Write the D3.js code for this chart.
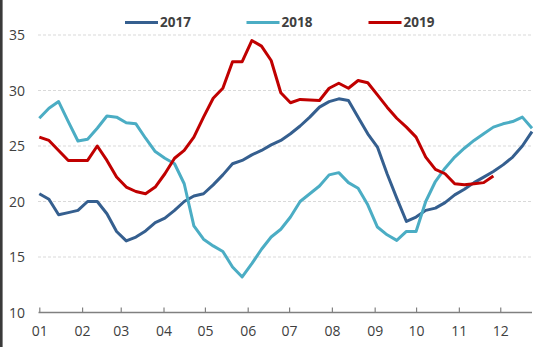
<!DOCTYPE html>
<html>
<head>
<meta charset="utf-8">
<script src="https://cdn.jsdelivr.net/npm/d3@7"></script>
<style>
  html, body { margin: 0; padding: 0; background: #fff; }
  svg { display: block; font-family: "Open Sans", "DejaVu Sans", sans-serif; }
</style>
</head>
<body>
<svg id="chart" width="550" height="347"></svg>
<script>
// ---- data (weekly points, week index 0 = Jan 1) ----
const seriesNames = ["2017", "2018", "2019"];
const seriesColors = ["#355F8F", "#4BADC4", "#C00000"];
const values2017 = [20.7, 20.2, 18.8, 19.0, 19.2, 20.0, 20.0, 18.9, 17.3, 16.45,
  16.8, 17.35, 18.1, 18.5, 19.2, 20.0, 20.5, 20.7, 21.5, 22.4,
  23.4, 23.7, 24.2, 24.6, 25.1, 25.5, 26.1, 26.8, 27.6, 28.5,
  29.0, 29.25, 29.1, 27.6, 26.1, 24.9, 22.5, 20.3, 18.2, 18.6,
  19.2, 19.4, 19.9, 20.6, 21.1, 21.7, 22.2, 22.7, 23.3, 24.0,
  25.0, 26.3];
const values2018 = [27.5, 28.4, 29.0, 27.2, 25.45, 25.6, 26.6, 27.7, 27.6, 27.1,
  27.0, 25.7, 24.5, 23.9, 23.4, 21.6, 17.8, 16.6, 16.0, 15.5,
  14.1, 13.2, 14.4, 15.7, 16.8, 17.5, 18.6, 20.0, 20.7, 21.4,
  22.4, 22.6, 21.7, 21.2, 19.7, 17.7, 17.0, 16.5, 17.3, 17.3,
  20.0, 21.8, 23.0, 24.0, 24.8, 25.5, 26.1, 26.7, 27.0, 27.2,
  27.6, 26.6];
const values2019 = [25.8, 25.5, 24.6, 23.7, 23.7, 23.7, 25.0, 23.7, 22.2, 21.3,
  20.9, 20.7, 21.3, 22.5, 23.9, 24.6, 25.8, 27.6, 29.3, 30.2,
  32.6, 32.6, 34.5, 34.0, 32.7, 29.8, 28.9, 29.2, 29.15, 29.1,
  30.2, 30.65, 30.2, 30.9, 30.7, 29.6, 28.5, 27.5, 26.7, 25.8,
  24.0, 22.9, 22.5, 21.6, 21.5, 21.6, 21.7, 22.3];
const yTicks = [10, 15, 20, 25, 30, 35];
const monthLabels = ["01","02","03","04","05","06","07","08","09","10","11","12"];

const allValues = [values2017, values2018, values2019];
const baseYear = 2017;
const weekDate = i => new Date(baseYear, 0, 1 + 7 * i);

// ---- layout ----
const svg = d3.select("#chart");
const x = d3.scaleTime()
  .domain([new Date(baseYear, 0, 1), weekDate(51)])
  .range([39.3, 532]);
const y = d3.scaleLinear().domain([10, 35]).range([312.5, 35]);

// left border strip
svg.append("rect").attr("x", 0).attr("y", 0).attr("width", 2.6).attr("height", 347).attr("fill", "#3a3a3a");

// gridlines
svg.append("g").selectAll("line")
  .data(yTicks.filter(t => t > 10))
  .join("line")
  .attr("x1", 38).attr("x2", 532)
  .attr("y1", d => y(d)).attr("y2", d => y(d))
  .attr("stroke", "#d9d9d9").attr("stroke-width", 1)
  .attr("stroke-dasharray", "3,2");

// y labels
svg.append("g").selectAll("text")
  .data(yTicks)
  .join("text")
  .attr("x", 25).attr("y", d => y(d))
  .attr("dy", "0.36em")
  .attr("text-anchor", "end")
  .attr("font-size", 14)
  .attr("fill", "#404040")
  .text(d => d);

// x axis
const monthDates = monthLabels.map((m, i) => new Date(baseYear, i, 1));
const xAxis = d3.axisBottom(x)
  .tickValues(monthDates)
  .tickFormat((d, i) => monthLabels[i])
  .tickSizeInner(-5)
  .tickSizeOuter(0)
  .tickPadding(14);
const gx = svg.append("g").attr("transform", `translate(0,${y(10)})`).call(xAxis);
gx.select(".domain").attr("stroke", "#808080").attr("stroke-width", 1.5)
  .attr("d", `M38.5,0H532`);
gx.selectAll(".tick line").attr("stroke", "#808080").attr("stroke-width", 1.2);
gx.selectAll(".tick text").attr("font-size", 14).attr("fill", "#404040")
  .attr("font-family", "\"Open Sans\", sans-serif");

// lines
const line = d3.line()
  .x((d, i) => x(weekDate(i)))
  .y(d => y(d));
svg.append("g").selectAll("path")
  .data(allValues)
  .join("path")
  .attr("d", d => line(d))
  .attr("fill", "none")
  .attr("stroke", (d, i) => seriesColors[i])
  .attr("stroke-width", 3)
  .attr("stroke-linejoin", "round")
  .attr("stroke-linecap", "butt");

// legend
const legendX = [125, 246.5, 368.5];
const lg = svg.append("g").selectAll("g")
  .data(seriesNames)
  .join("g")
  .attr("transform", (d, i) => `translate(${legendX[i]},22.5)`);
lg.append("line")
  .attr("x1", 0).attr("x2", 33)
  .attr("stroke", (d, i) => seriesColors[i])
  .attr("stroke-width", 3);
lg.append("text")
  .attr("x", 35).attr("dy", "0.36em")
  .attr("font-size", 13.5)
  .attr("font-weight", "bold")
  .attr("fill", "#404040")
  .text(d => d);
</script>
</body>
</html>
